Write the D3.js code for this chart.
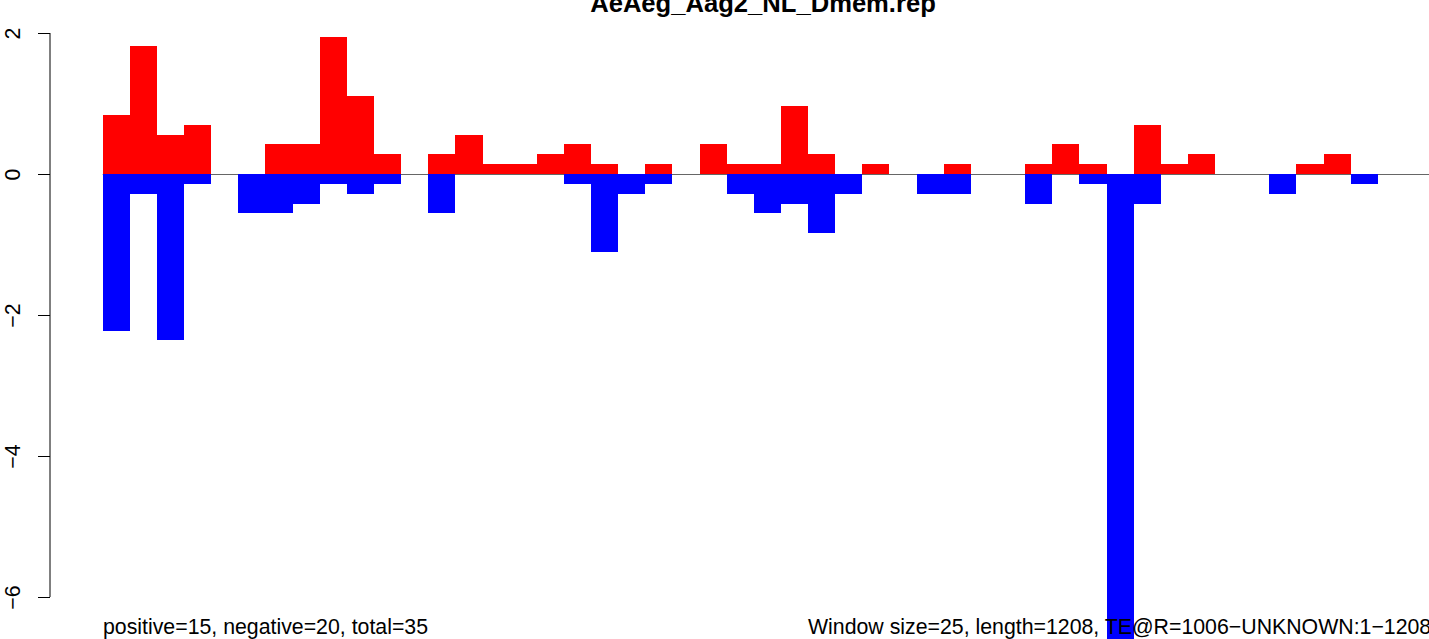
<!DOCTYPE html>
<html><head><meta charset="utf-8">
<script src="https://cdn.jsdelivr.net/npm/d3@7"></script>
<style>html,body{margin:0;padding:0;background:#fff;overflow:hidden}</style>
</head><body>
<svg id="chart" width="1429" height="639"></svg>
<script>
const title = "AeAeg_Aag2_NL_Dmem.rep";
const leftNote = "positive=15, negative=20, total=35";
const rightNote = "Window size=25, length=1208, TE@R=1006\u2212UNKNOWN:1\u22121208";
const bins = d3.range(49);
const positive = [0.83,1.81,0.56,0.70,0,0,0.42,0.42,1.95,1.11,0.28,0,0.28,0.56,0.14,0.14,0.28,0.42,0.14,0,0.14,0,0.42,0.14,0.14,0.97,0.28,0,0.14,0,0,0.14,0,0,0.14,0.42,0.14,0,0.70,0.14,0.28,0,0,0,0.14,0.28,0,0,0];
const negative = [2.22,0.28,2.36,0.14,0,0.56,0.56,0.42,0.14,0.28,0.14,0,0.56,0,0,0,0,0.14,1.11,0.28,0.14,0,0,0.28,0.56,0.42,0.83,0.28,0,0,0.28,0.28,0,0,0.42,0,0.14,7.0,0.42,0,0,0,0,0.28,0,0,0.14,0,0];
const yTicks = [2,0,-2,-4,-6];

const svg = d3.select("#chart");
const font = "'Liberation Sans', Arial, Helvetica, sans-serif";
const x = d3.scaleLinear().domain([0,49]).range([102.7,102.7+49*27.13]);
const y = d3.scaleLinear().domain([-6,2]).range([597,33]);

// zero line
svg.append("line").attr("x1",x(0)).attr("x2",1429).attr("y1",y(0)+0.5).attr("y2",y(0)+0.5)
  .attr("stroke","#666").attr("stroke-width",1.2);

// positive bars
svg.append("g").attr("shape-rendering","crispEdges").selectAll("rect").data(bins.filter(i=>positive[i]>0)).join("rect")
  .attr("x",i=>x(i)).attr("width",i=>x(i+1)-x(i))
  .attr("y",i=>y(positive[i])).attr("height",i=>y(0)-y(positive[i]))
  .attr("fill","#ff0000");
// negative bars
svg.append("g").attr("shape-rendering","crispEdges").selectAll("rect").data(bins.filter(i=>negative[i]>0)).join("rect")
  .attr("x",i=>x(i)).attr("width",i=>x(i+1)-x(i))
  .attr("y",y(0)).attr("height",i=>y(-negative[i])-y(0))
  .attr("fill","#0000ff");

// y axis
const ax = svg.append("g").attr("transform","translate(50,0)")
  .call(d3.axisLeft(y).tickValues(yTicks).tickSize(12).tickPadding(0).tickFormat(d=>d<0?"\u2212"+(-d):""+d));
ax.select(".domain").attr("d",`M0,${y(2)}V${y(-6)}`).attr("stroke","#000");
ax.selectAll(".tick line").attr("stroke","#000");
ax.selectAll(".tick text")
  .attr("x",null).attr("dy",null).attr("y",0)
  .attr("font-family",font).attr("font-size",21.3).attr("fill","#000")
  .attr("text-anchor","middle")
  .attr("transform","translate(-30,0) rotate(-90)");

// title
svg.append("text").attr("x",763).attr("y",12).attr("text-anchor","middle")
  .attr("font-family",font).attr("font-weight","bold").attr("font-size",25.6).text(title);

// notes
svg.append("text").attr("x",103).attr("y",634).attr("font-family",font).attr("font-size",21.3).text(leftNote);
svg.append("text").attr("x",808).attr("y",634).attr("font-family",font).attr("font-size",21.3).text(rightNote);
</script>
</body></html>
